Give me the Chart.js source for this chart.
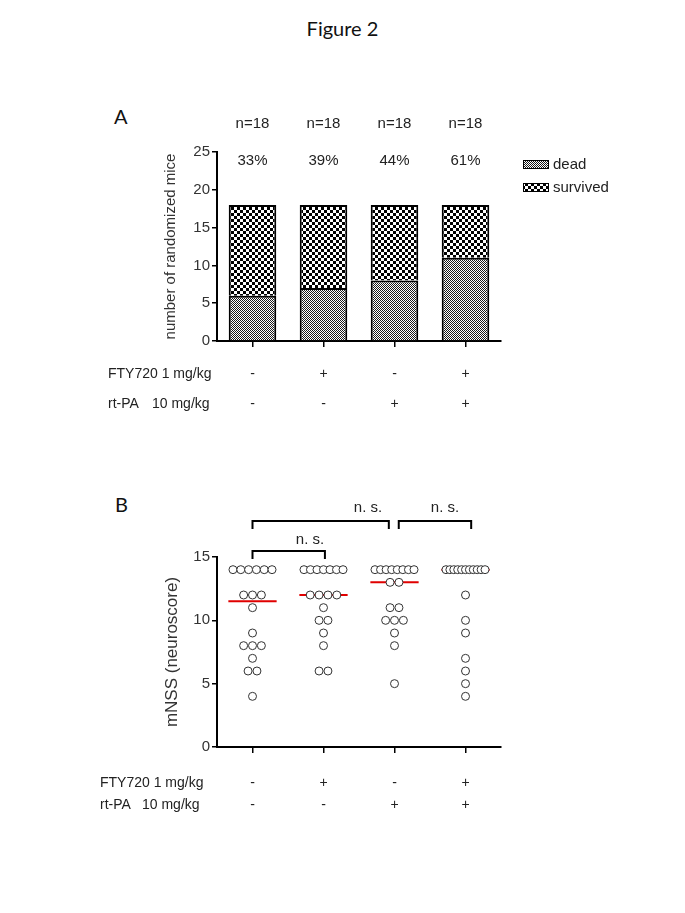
<!DOCTYPE html>
<html>
<head>
<meta charset="utf-8">
<script src="https://cdn.jsdelivr.net/npm/chart.js@4.4.1/dist/chart.umd.min.js"></script>
<style>
  body { margin: 0; background: #fff; width: 685px; height: 913px; position: relative; overflow: hidden; }
  canvas { position: absolute; left: 0; }
  .lbl { position: absolute; color: #111; font-family: Lato, "Open Sans", sans-serif; }
</style>
</head>
<body>
<div class="lbl" style="left:0;width:685px;top:16px;text-align:center;font-size:20px;">Figure 2</div>
<div class="lbl" style="left:114px;top:104px;font-size:20px;">A</div>
<div class="lbl" style="left:115px;top:492px;font-size:20px;">B</div>
<canvas id="chartA" width="685" height="440" style="top:0"></canvas>
<canvas id="chartB" width="685" height="473" style="top:440px"></canvas>
<script>
// treatment groups (same order in both panels)
const groups = ['saline', 'FTY720', 'rt-PA', 'FTY720 + rt-PA'];
const fty720 = ['-', '+', '-', '+'];
const rtpa = ['-', '-', '+', '+'];
const groupN = [18, 18, 18, 18];

// panel A: outcome per group
const dead = [6, 7, 8, 11];
const survived = [12, 11, 10, 7];
const deadPct = ['33%', '39%', '44%', '61%'];

// panel B: mNSS per mouse, per group
const mnss1 = [14, 14, 14, 14, 14, 14, 12, 12, 12, 11, 9, 8, 8, 8, 7, 6, 6, 4];
const mnss2 = [14, 14, 14, 14, 14, 14, 14, 12, 12, 12, 12, 11, 10, 10, 9, 8, 6, 6];
const mnss3 = [14, 14, 14, 14, 14, 14, 14, 14, 13, 13, 11, 11, 10, 10, 10, 9, 8, 5];
const mnss4 = [14, 14, 14, 14, 14, 14, 14, 14, 14, 14, 14, 12, 10, 9, 7, 6, 5, 4];
const medians = [11.5, 12, 13, 14];
// comparisons drawn above panel B: [from group, to group, text]
const comparisons = [[0, 2, 'n. s.'], [2, 3, 'n. s.'], [0, 1, 'n. s.']];

const FONT = '"Liberation Sans", Arial, sans-serif';

function checker(size, dark, light) {
    const c = document.createElement('canvas');
    c.width = c.height = size * 2;
    const x = c.getContext('2d');
    x.fillStyle = light;
    x.fillRect(0, 0, size * 2, size * 2);
    x.fillStyle = dark;
    x.fillRect(0, 0, size, size);
    x.fillRect(size, size, size, size);
    return x.createPattern(c, 'repeat');
}

const ctxA = document.getElementById('chartA').getContext('2d');
const deadFill = checker(1, '#1a1a1a', '#ffffff');
const survivedFill = checker(3, '#000000', '#ffffff');

// draws the row labels (+/-) under a panel
function drawRows(ctx, xs, y1, y2, left, tab) {
    ctx.font = '14px ' + FONT;
    ctx.fillStyle = '#222';
    ctx.textBaseline = 'middle';
    ctx.textAlign = 'left';
    ctx.fillText('FTY720 1 mg/kg', left, y1);
    ctx.fillText('rt-PA', left, y2);
    ctx.fillText('10 mg/kg', left + tab, y2);
    ctx.textAlign = 'center';
    groups.forEach((g, i) => {
        const px = xs.getPixelForValue(i);
        ctx.fillText(fty720[i], px, y1);
        ctx.fillText(rtpa[i], px, y2);
    });
}

const panelA = {
    id: 'panelA',
    afterDraw(chart) {
        const ctx = chart.ctx;
        const xs = chart.scales.x;
        ctx.save();
        ctx.fillStyle = '#222';
        ctx.font = '15px ' + FONT;
        ctx.textAlign = 'center';
        ctx.textBaseline = 'middle';
        groups.forEach((g, i) => {
            const px = xs.getPixelForValue(i);
            ctx.fillText('n=' + groupN[i], px, 124);
            ctx.fillText(deadPct[i], px, 161);
        });
        // legend
        chart.data.datasets.forEach((ds, i) => {
            const y = 160 + i * 23;
            ctx.fillStyle = ds.backgroundColor;
            ctx.fillRect(523, y, 26, 9);
            ctx.strokeStyle = '#000';
            ctx.lineWidth = 1;
            ctx.strokeRect(523.5, y + 0.5, 25, 8);
            ctx.fillStyle = '#222';
            ctx.textAlign = 'left';
            ctx.fillText(ds.label, 553, y + 5);
        });
        drawRows(ctx, xs, 374, 404, 108, 44);
        ctx.restore();
    }
};

new Chart(ctxA, {
    type: 'bar',
    data: {
        labels: groups,
        datasets: [
            { label: 'dead', data: dead, backgroundColor: deadFill },
            { label: 'survived', data: survived, backgroundColor: survivedFill }
        ]
    },
    options: {
        responsive: false,
        animation: false,
        layout: { padding: { left: 158, right: 184, top: 152, bottom: 89 } },
        datasets: {
            bar: {
                borderColor: '#000',
                borderWidth: 2,
                categoryPercentage: 1,
                barPercentage: 0.67
            }
        },
        plugins: { legend: { display: false }, tooltip: { enabled: false } },
        scales: {
            x: {
                stacked: true,
                afterFit: s => { s.height = 10; },
                ticks: { display: false },
                grid: { offset: false, drawOnChartArea: false, tickLength: 6, color: '#000', lineWidth: 1.5 },
                border: { color: '#000', width: 2 }
            },
            y: {
                stacked: true,
                min: 0,
                max: 25,
                afterFit: s => { s.width = 59; },
                ticks: { stepSize: 5, padding: 2, color: '#333', font: { family: FONT, size: 15 } },
                grid: { drawOnChartArea: false, tickLength: 5, color: '#000', lineWidth: 1.5 },
                border: { color: '#000', width: 2 },
                title: { display: true, text: 'number of randomized mice', color: '#333', font: { family: FONT, size: 15 }, padding: 4 }
            }
        }
    },
    plugins: [panelA]
});

// panel B: spread equal values side by side, like a column scatter
function spread(values, gi) {
    const counts = {};
    values.forEach(v => { counts[v] = (counts[v] || 0) + 1; });
    const seen = {};
    return values.map(v => {
        const n = counts[v];
        const k = seen[v] = (seen[v] === undefined ? 0 : seen[v] + 1);
        const step = n > 1 ? Math.min(0.125, 0.55 / (n - 1)) : 0;
        return { x: gi + (k - (n - 1) / 2) * step, y: v };
    });
}

const mnss = [mnss1, mnss2, mnss3, mnss4];
const medianLine = [];
medians.forEach((m, i) => {
    medianLine.push({ x: i - 0.34, y: m }, { x: i + 0.34, y: m }, { x: i, y: null });
});

const panelB = {
    id: 'panelB',
    afterDraw(chart) {
        const ctx = chart.ctx;
        const xs = chart.scales.x;
        ctx.save();
        ctx.strokeStyle = '#000';
        ctx.lineWidth = 2;
        ctx.font = '15px ' + FONT;
        ctx.fillStyle = '#222';
        ctx.textAlign = 'center';
        ctx.textBaseline = 'middle';
        // bracket geometry: [y of bar, nudge left end, nudge right end, text x, text y]
        const geo = [[81, 0, -0.08, 368, 68], [81, 0.06, 0.08, 445, 68], [111, 0, 0.02, 310, 100]];
        comparisons.forEach((c, i) => {
            const [y, a, b, tx, ty] = geo[i];
            const x1 = xs.getPixelForValue(c[0] + a);
            const x2 = xs.getPixelForValue(c[1] + b);
            ctx.beginPath();
            ctx.moveTo(x1, y + 8);
            ctx.lineTo(x1, y);
            ctx.lineTo(x2, y);
            ctx.lineTo(x2, y + 8);
            ctx.stroke();
            ctx.fillText(c[2], tx, ty);
        });
        drawRows(ctx, xs, 343, 365, 100, 42);
        ctx.restore();
    }
};

new Chart(document.getElementById('chartB').getContext('2d'), {
    type: 'scatter',
    data: {
        datasets: [
            ...mnss.map((vals, i) => ({
                label: groups[i],
                data: spread(vals, i),
                order: 0,
                pointRadius: 4,
                pointBorderWidth: 1,
                borderColor: '#333',
                backgroundColor: '#fff'
            })),
            {
                type: 'line',
                label: 'median',
                data: medianLine,
                order: 1,
                borderColor: '#e00000',
                borderWidth: 2,
                pointRadius: 0,
                spanGaps: false
            }
        ]
    },
    options: {
        responsive: false,
        animation: false,
        layout: { padding: { left: 158, right: 184, top: 117, bottom: 156 } },
        plugins: { legend: { display: false }, tooltip: { enabled: false } },
        scales: {
            x: {
                type: 'linear',
                min: -0.5,
                max: 3.5,
                afterBuildTicks: s => { s.ticks = groups.map((g, i) => ({ value: i })); },
                afterFit: s => { s.height = 10; },
                ticks: { display: false },
                grid: { drawOnChartArea: false, tickLength: 6, color: '#000', lineWidth: 1.5 },
                border: { color: '#000', width: 2 }
            },
            y: {
                min: 0,
                max: 15,
                afterFit: s => { s.width = 59; },
                ticks: { stepSize: 5, padding: 2, color: '#333', font: { family: FONT, size: 15 } },
                grid: { drawOnChartArea: false, tickLength: 5, color: '#000', lineWidth: 1.5 },
                border: { color: '#000', width: 2 },
                title: { display: true, text: 'mNSS (neuroscore)', color: '#333', font: { family: FONT, size: 17 }, padding: 4 }
            }
        }
    },
    plugins: [panelB]
});
</script>
</body>
</html>
